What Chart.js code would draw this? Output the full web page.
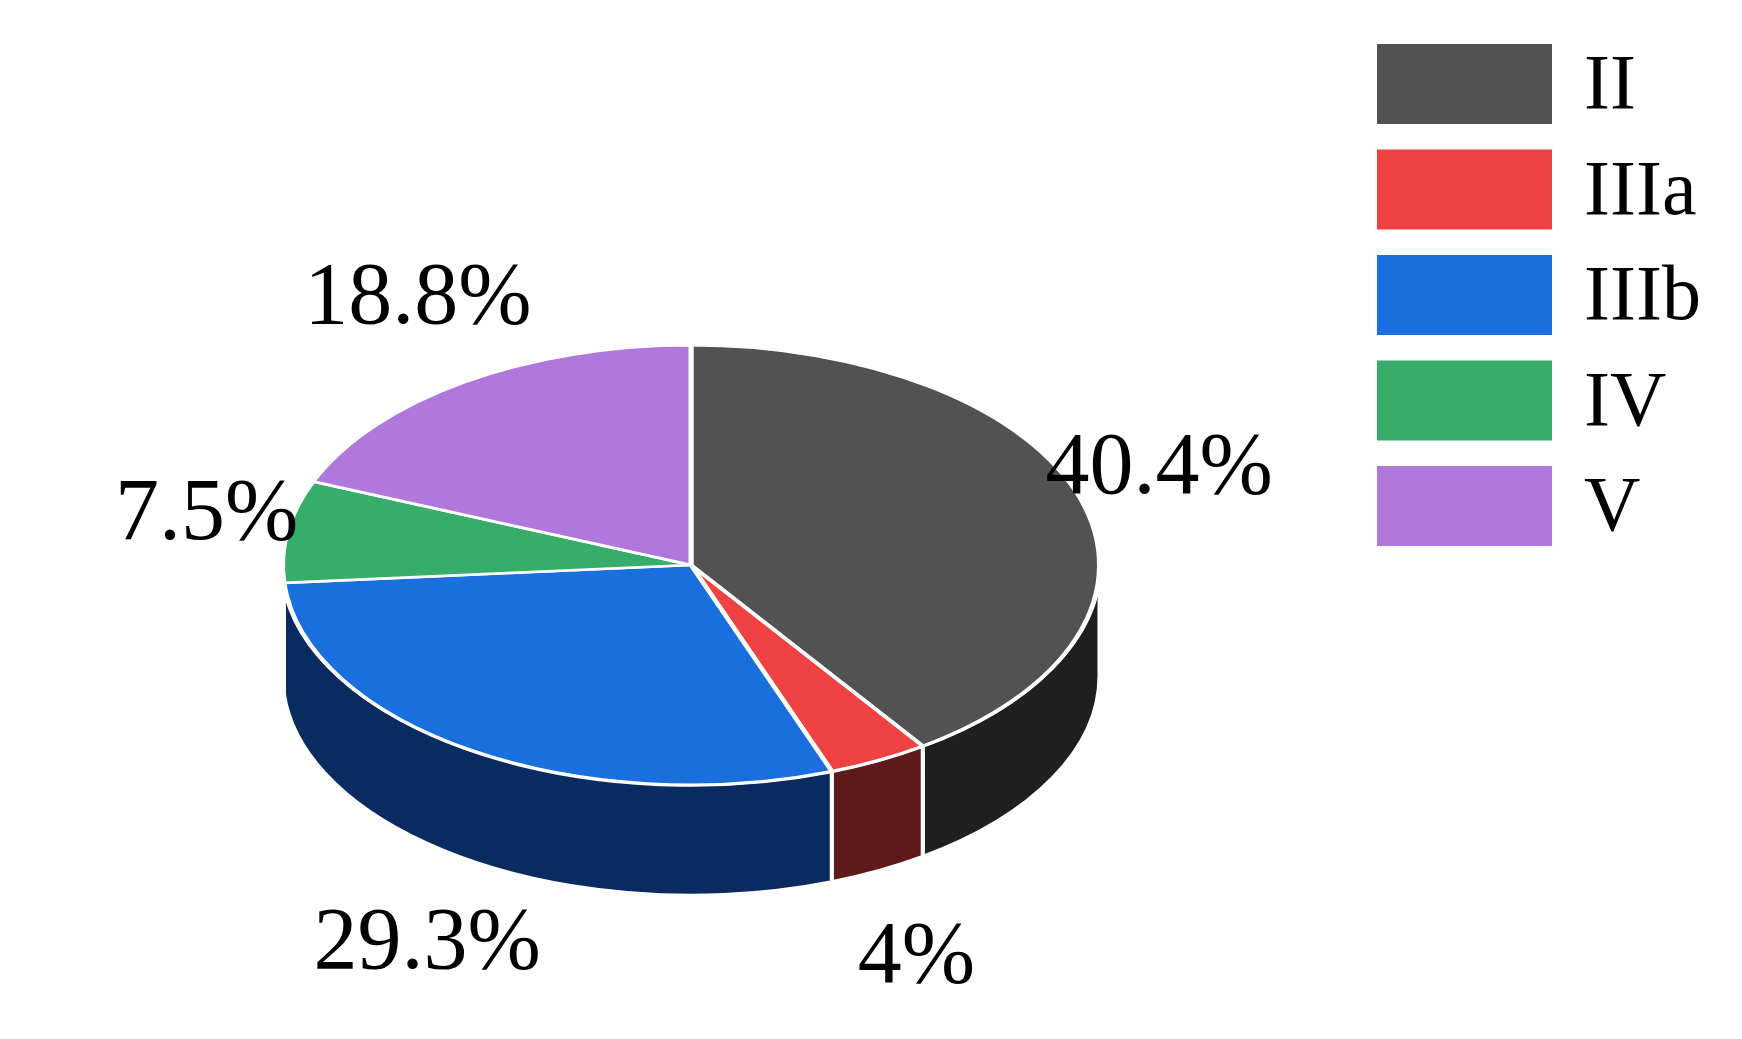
<!DOCTYPE html>
<html>
<head>
<meta charset="utf-8">
<style>html,body{margin:0;background:#fff}</style>
<script src="https://cdn.jsdelivr.net/npm/chart.js@4"></script>
</head>
<body>
<canvas id="pie" width="1742" height="1039" style="width:1742px;height:1039px"></canvas>
<script>
const categories = ['II', 'IIIa', 'IIIb', 'IV', 'V'];
const shares = [40.4, 4, 29.3, 7.5, 18.8];
const shareLabels = ['40.4%', '4%', '29.3%', '7.5%', '18.8%'];
const topColors = ['#525252', '#f04242', '#1a6fde', '#37ad6b', '#b078dc'];
const sideColors = ['#1f1f1f', '#5e1a1a', null, '#1f7a48', '#7a4fa0'];

const SQUASH = 0.538;   // ellipse height / width
const TOP_Y = 565;      // screen y of the top face centre
const DEPTH = 111;      // thickness of the disc
const FONT = '"Liberation Serif", "Times New Roman", serif';

function geom(chart) {
  const a = chart.getDatasetMeta(0).data[0];
  return { cx: a.x, cy: a.y, r: a.outerRadius };
}

const tilt = {
  id: 'tilt',
  beforeDatasetsDraw(chart) {
    const ctx = chart.ctx;
    const { cx, cy, r } = geom(chart);
    const ry = r * SQUASH;
    // side walls
    chart.getDatasetMeta(0).data.forEach((arc, i) => {
      [[0, Math.PI], [2 * Math.PI, 3 * Math.PI]].forEach(([lo, hi]) => {
        const a1 = Math.max(arc.startAngle, lo), a2 = Math.min(arc.endAngle, hi);
        if (a2 <= a1) return;
        ctx.beginPath();
        ctx.ellipse(cx, TOP_Y, r, ry, 0, a1, a2, false);
        ctx.lineTo(cx + r * Math.cos(a2), TOP_Y + ry * Math.sin(a2) + DEPTH);
        ctx.ellipse(cx, TOP_Y + DEPTH, r, ry, 0, a2, a1, true);
        ctx.closePath();
        if (sideColors[i]) {
          ctx.fillStyle = sideColors[i];
        } else {
          const g = ctx.createLinearGradient(cx - r, 0, cx + r * Math.cos(a2), 0);
          g.addColorStop(0, '#1c5cb8');
          g.addColorStop(1, '#0a2b60');
          ctx.fillStyle = g;
        }
        ctx.fill();
        ctx.strokeStyle = '#fff';
        ctx.lineWidth = 4;
        ctx.stroke();
      });
    });
    ctx.save();
    ctx.translate(0, TOP_Y);
    ctx.scale(1, SQUASH);
    ctx.translate(0, -cy);
  },
  afterDatasetsDraw(chart) {
    chart.ctx.restore();
  },
  afterDraw(chart) {
    const ctx = chart.ctx;
    const { cx, r } = geom(chart);
    const ry = r * SQUASH;
    ctx.save();
    ctx.fillStyle = '#000';
    ctx.font = '88px ' + FONT;
    ctx.textAlign = 'center';
    ctx.textBaseline = 'middle';
    chart.getDatasetMeta(0).data.forEach((arc, i) => {
      const m = (arc.startAngle + arc.endAngle) / 2;
      const s = Math.sin(m);
      const x = cx + r * 1.2 * Math.cos(m);
      const y = TOP_Y + ry * 1.45 * s + (s > 0 ? DEPTH : 0);
      ctx.fillText(shareLabels[i], x, y);
    });
    // legend
    ctx.font = '78px ' + FONT;
    ctx.textAlign = 'left';
    categories.forEach((c, i) => {
      const y = 84 + i * 105.5;
      ctx.fillStyle = topColors[i];
      ctx.fillRect(1377, y - 40, 175, 80);
      ctx.fillStyle = '#000';
      ctx.fillText(c, 1584, y + 4);
    });
    ctx.restore();
  }
};

new Chart(document.getElementById('pie'), {
  type: 'pie',
  data: {
    labels: categories,
    datasets: [{
      data: shares,
      backgroundColor: topColors,
      borderColor: '#fff',
      borderWidth: 5
    }]
  },
  options: {
    responsive: false,
    animation: false,
    layout: { padding: { left: 280, right: 640, top: 108, bottom: 109 } },
    plugins: { legend: { display: false }, tooltip: { enabled: false } }
  },
  plugins: [tilt]
});
</script>
</body>
</html>
